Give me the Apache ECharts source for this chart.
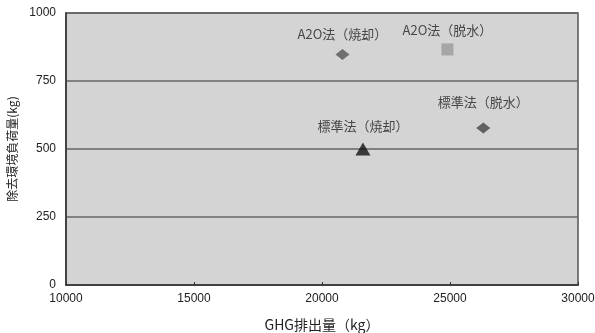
<!DOCTYPE html>
<html><head><meta charset="utf-8">
<script src="https://cdn.jsdelivr.net/npm/echarts@6/dist/echarts.min.js"></script>
<style>html,body{margin:0;padding:0;background:#fff}#c{width:595px;height:333px}</style>
</head><body><div id="c"></div>
<script>
const names = ['A2O法（焼却）', 'A2O法（脱水）', '標準法（脱水）', '標準法（焼却）'];
const ghg = [20800, 24900, 26300, 21600];
const load = [847, 866, 577, 500];
const symbols = ['diamond', 'rect', 'diamond', 'triangle'];
const colors = ['#555555', '#9a9a9a', '#444444', '#111111'];
const xTicks = [10000, 15000, 20000, 25000, 30000];
const yTicks = [0, 250, 500, 750, 1000];

const sizes = [[14, 11], [12, 12], [14, 11], [15, 13]];
const labelDist = [9, 7, 14, 10];

const chart = echarts.init(document.getElementById('c'));
const font = '"Noto Sans CJK JP", sans-serif';
chart.setOption({
  animation: false,
  grid: { left: 66, right: 17, top: 13, bottom: 48, outerBoundsMode: 'none', containLabel: false, show: true, backgroundColor: '#d4d4d4', borderColor: '#555', borderWidth: 1.5 },
  xAxis: {
    type: 'value', min: xTicks[0], max: xTicks[xTicks.length - 1], interval: 5000,
    name: 'GHG排出量（kg）', nameLocation: 'middle', nameGap: 33,
    nameTextStyle: { fontFamily: font, fontSize: 14, color: '#222' },
    axisLine: { show: true, lineStyle: { color: '#333', width: 1.5 } },
    axisTick: { show: true, inside: true, length: 3, lineStyle: { color: '#333' } },
    axisLabel: { fontFamily: 'Liberation Sans, Arial', fontSize: 12, color: '#222', margin: 8, formatter: v => String(v) },
    splitLine: { show: false }
  },
  yAxis: {
    type: 'value', min: yTicks[0], max: yTicks[yTicks.length - 1], interval: 250,
    name: '除去環境負荷量(kg)', nameLocation: 'middle', nameGap: 46,
    nameTextStyle: { fontFamily: font, fontSize: 12, color: '#222' },
    axisLine: { show: true, lineStyle: { color: '#333', width: 1.5 } },
    axisTick: { show: false },
    axisLabel: { fontFamily: 'Liberation Sans, Arial', fontSize: 12, color: '#222', margin: 10, formatter: v => String(v) },
    splitLine: { show: true, lineStyle: { color: '#666', width: 1.5 } }
  },
  series: names.map((n, i) => ({
    type: 'scatter', name: n,
    symbol: symbols[i], symbolSize: sizes[i],
    itemStyle: { color: colors[i] },
    label: { show: true, position: 'top', distance: labelDist[i], formatter: n, fontFamily: font, fontSize: 13, color: '#222' },
    data: [[ghg[i], load[i]]]
  }))
});
</script></body></html>
